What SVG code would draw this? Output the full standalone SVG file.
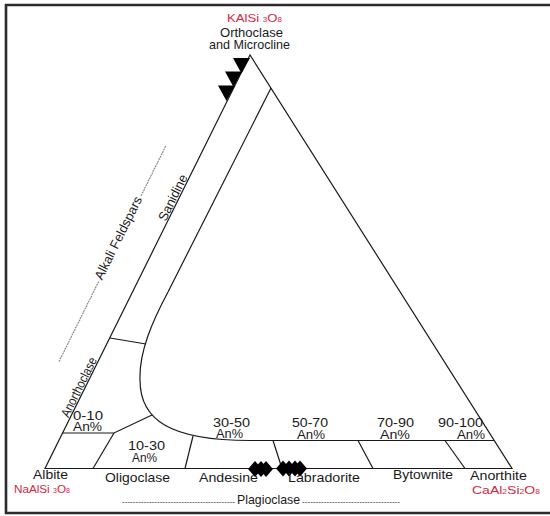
<svg xmlns="http://www.w3.org/2000/svg" width="550" height="516" viewBox="0 0 550 516">
<style>
text{font-family:"Liberation Sans",Arial,sans-serif;font-size:13px;fill:#1a1a1a}
.an{font-size:12.5px}
.red{fill:#d6283f;font-size:11.5px}
.sub{font-size:7px}
.dash{font-size:8px;fill:#222}
.ln{fill:none;stroke:#1a1a1a;stroke-width:1.2}
.frame{fill:none;stroke:#2b2b2b;stroke-width:2.6}
.mk{fill:#000}
</style>
<defs>
<path id="tri" d="M0,0 H17 L8.5,15.5 Z"/>
<path id="dia" d="M0,-8 L7,0 L0,8 L-7,0 Z"/>
</defs>
<rect width="550" height="516" fill="#fff"/>
<path class="frame" d="M550,5 H6 V513 H550"/>

<g id="connectors">
<path class="ln" d="M250,55 L45,468.5 L512,468.5 Z"/>
<path class="ln" d="M271,88 L168,292 C152,322 139,352 140,380 C140,420 170,440.5 250,440.5 L494,440.5"/>
<line class="ln" x1="110" y1="338" x2="146" y2="344"/>
<polyline class="ln" points="62.5,433 114,433 152,415"/>
<line class="ln" x1="114" y1="433" x2="93" y2="468.5"/>
<line class="ln" x1="193" y1="436" x2="185" y2="468.5"/>
<line class="ln" x1="273" y1="440.5" x2="282" y2="468.5"/>
<line class="ln" x1="358" y1="440.5" x2="373" y2="468.5"/>
<line class="ln" x1="445" y1="440.5" x2="465" y2="468.5"/>
</g>

<g id="markers">
<use href="#tri" class="mk" x="233" y="58"/>
<use href="#tri" class="mk" x="225" y="71.5"/>
<use href="#tri" class="mk" x="218" y="85.5"/>
<use href="#dia" class="mk" x="255" y="469"/>
<use href="#dia" class="mk" x="261" y="469"/>
<use href="#dia" class="mk" x="266" y="469"/>
<use href="#dia" class="mk" x="283" y="468.5"/>
<use href="#dia" class="mk" x="289" y="468.5"/>
<use href="#dia" class="mk" x="295" y="468.5"/>
<use href="#dia" class="mk" x="300" y="468.5"/>
</g>

<g id="node-orthoclase">
<text class="red" x="227" y="22" textLength="55" lengthAdjust="spacingAndGlyphs">KAlSi <tspan class="sub">3</tspan>O<tspan class="sub">8</tspan></text>
<text x="220" y="37" textLength="63" lengthAdjust="spacingAndGlyphs">Orthoclase</text>
<text x="209" y="49" textLength="81" lengthAdjust="spacingAndGlyphs">and Microcline</text>
</g>

<g id="node-albite">
<text x="33" y="479" textLength="35" lengthAdjust="spacingAndGlyphs">Albite</text>
<text class="red" x="14" y="493" textLength="56" lengthAdjust="spacingAndGlyphs">NaAlSi <tspan class="sub">3</tspan>O<tspan class="sub">8</tspan></text>
</g>

<g id="node-anorthite">
<text x="470" y="480" textLength="57" lengthAdjust="spacingAndGlyphs">Anorthite</text>
<text class="red" x="472" y="494" textLength="68" lengthAdjust="spacingAndGlyphs">CaAl<tspan class="sub">2</tspan>Si<tspan class="sub">2</tspan>O<tspan class="sub">8</tspan></text>
</g>

<g id="node-oligoclase"><text x="105" y="482" textLength="65" lengthAdjust="spacingAndGlyphs">Oligoclase</text></g>
<g id="node-andesine"><text x="199" y="482" textLength="59" lengthAdjust="spacingAndGlyphs">Andesine</text></g>
<g id="node-labradorite"><text x="288" y="482" textLength="72" lengthAdjust="spacingAndGlyphs">Labradorite</text></g>
<g id="node-bytownite"><text x="393" y="479" textLength="60" lengthAdjust="spacingAndGlyphs">Bytownite</text></g>

<g id="node-an0-10">
<text class="an" x="73" y="420" textLength="30" lengthAdjust="spacingAndGlyphs">0-10</text>
<text class="an" x="73" y="431" textLength="29" lengthAdjust="spacingAndGlyphs">An%</text>
</g>
<g id="node-an10-30">
<text class="an" x="128" y="450" textLength="37" lengthAdjust="spacingAndGlyphs">10-30</text>
<text class="an" x="132" y="462" textLength="25" lengthAdjust="spacingAndGlyphs">An%</text>
</g>
<g id="node-an30-50">
<text class="an" x="213" y="427" textLength="37" lengthAdjust="spacingAndGlyphs">30-50</text>
<text class="an" x="216" y="438" textLength="27" lengthAdjust="spacingAndGlyphs">An%</text>
</g>
<g id="node-an50-70">
<text class="an" x="292" y="427" textLength="36" lengthAdjust="spacingAndGlyphs">50-70</text>
<text class="an" x="297" y="439" textLength="28" lengthAdjust="spacingAndGlyphs">An%</text>
</g>
<g id="node-an70-90">
<text class="an" x="377" y="427" textLength="37" lengthAdjust="spacingAndGlyphs">70-90</text>
<text class="an" x="380" y="439" textLength="30" lengthAdjust="spacingAndGlyphs">An%</text>
</g>
<g id="node-an90-100">
<text class="an" x="438" y="427" textLength="45" lengthAdjust="spacingAndGlyphs">90-100</text>
<text class="an" x="457" y="439" textLength="28" lengthAdjust="spacingAndGlyphs">An%</text>
</g>

<g id="node-plagioclase">
<text class="dash" x="122" y="503.5" textLength="113" lengthAdjust="spacing">------------------------------------------</text>
<text x="237" y="504" textLength="63" lengthAdjust="spacingAndGlyphs">Plagioclase</text>
<text class="dash" x="302" y="503.5" textLength="98" lengthAdjust="spacing">------------------------------------</text>
</g>

<g id="node-alkali" transform="translate(45,469) rotate(-63.66)">
<text x="56" y="-1.5" textLength="65" lengthAdjust="spacingAndGlyphs">Anorthoclase</text>
<text x="275" y="-1.5" textLength="50" lengthAdjust="spacingAndGlyphs">Sanidine</text>
<text class="dash" x="102" y="-33" textLength="90" lengthAdjust="spacing">----------------------------------</text>
<text x="194" y="-32.5" textLength="91" lengthAdjust="spacingAndGlyphs">Alkali Feldspars</text>
<text class="dash" x="287" y="-33" textLength="56" lengthAdjust="spacing">---------------------</text>
</g>
</svg>
